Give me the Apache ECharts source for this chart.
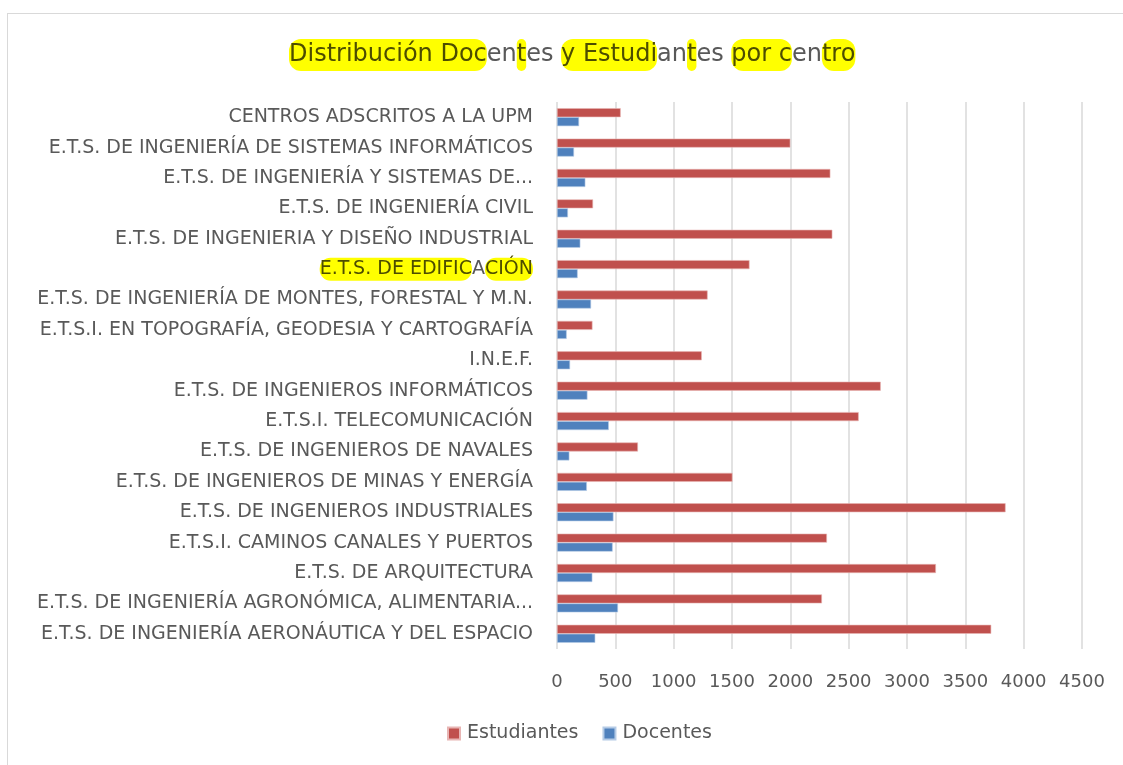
<!DOCTYPE html>
<html>
<head>
<meta charset="utf-8">
<script src="https://cdn.jsdelivr.net/npm/echarts@6/dist/echarts.min.js"></script>
<style>
  html, body { margin: 0; padding: 0; background: #fff; }
  #frame { position: absolute; left: 7px; top: 13px; width: 1130px; height: 770px; border: 1.5px solid #d9d9d9; box-sizing: border-box; }
  #chart { position: absolute; left: 0; top: 0; width: 1123px; height: 765px; }
</style>
</head>
<body>
<div id="frame"></div>
<div id="chart"></div>
<script>
// listed top to bottom as in the picture
const centros = [
  'CENTROS ADSCRITOS A LA UPM',
  'E.T.S. DE INGENIERÍA DE SISTEMAS INFORMÁTICOS',
  'E.T.S. DE INGENIERÍA Y SISTEMAS DE...',
  'E.T.S. DE INGENIERÍA CIVIL',
  'E.T.S. DE INGENIERIA Y DISEÑO INDUSTRIAL',
  'E.T.S. DE EDIFICACIÓN',
  'E.T.S. DE INGENIERÍA DE MONTES, FORESTAL Y M.N.',
  'E.T.S.I. EN TOPOGRAFÍA, GEODESIA Y CARTOGRAFÍA',
  'I.N.E.F.',
  'E.T.S. DE INGENIEROS INFORMÁTICOS',
  'E.T.S.I. TELECOMUNICACIÓN',
  'E.T.S. DE INGENIEROS DE NAVALES',
  'E.T.S. DE INGENIEROS DE MINAS Y ENERGÍA',
  'E.T.S. DE INGENIEROS INDUSTRIALES',
  'E.T.S.I. CAMINOS CANALES Y PUERTOS',
  'E.T.S. DE ARQUITECTURA',
  'E.T.S. DE INGENIERÍA AGRONÓMICA, ALIMENTARIA...',
  'E.T.S. DE INGENIERÍA AERONÁUTICA Y DEL ESPACIO'
]
const estudiantes = [546, 2000, 2343, 309, 2360, 1650, 1291, 304, 1241, 2775, 2586, 694, 1504, 3845, 2314, 3248, 2271, 3722]
const docentes = [189, 146, 243, 94, 200, 177, 292, 83, 112, 261, 444, 106, 256, 484, 477, 303, 523, 328]
const xTicks = { min: 0, max: 4500, interval: 500 }

const font = '"DejaVu Sans", sans-serif'
const textColor = '#595959'
const hl = { backgroundColor: '#ffff00', color: '#4d4d00', fontWeight: 'normal', borderRadius: 12, padding: [4, 0] }

const chart = echarts.init(document.getElementById('chart'), null, { renderer: 'canvas' })
chart.setOption({
  backgroundColor: 'transparent',
  title: {
    text: '{h|Distribución Doc}{n|en}{h|t}{n|es }{h|y Estudi}{n|an}{h|t}{n|es }{h|por c}{n|en}{h|tro}',
    left: 284,
    top: 34,
    textStyle: {
      fontFamily: font, fontSize: 24, fontWeight: 'normal', color: textColor,
      rich: {
        h: Object.assign({ fontFamily: font, fontSize: 24 }, hl),
        n: { fontFamily: font, fontSize: 24, fontWeight: 'normal', color: textColor, padding: [4, 0] }
      }
    }
  },
  legend: {
    bottom: 17,
    left: 442,
    itemWidth: 12,
    itemHeight: 12,
    itemGap: 24,
    icon: 'rect',
    textStyle: { fontFamily: font, fontSize: 19, color: textColor, padding: [0, 0, 0, 2] },
    data: ['Estudiantes', 'Docentes']
  },
  grid: { left: 557, right: 41, top: 102, bottom: 116, containLabel: false },
  xAxis: {
    type: 'value',
    min: xTicks.min,
    max: xTicks.max,
    interval: xTicks.interval,
    axisLine: { show: false },
    axisTick: { show: false },
    axisLabel: { fontFamily: font, fontSize: 18, color: textColor, margin: 24, formatter: v => String(v) },
    splitLine: { lineStyle: { color: '#d9d9d9', width: 1.5 } }
  },
  yAxis: {
    type: 'category',
    data: centros,
    inverse: true,
    axisLine: { show: false },
    axisTick: { show: false },
    axisLabel: {
      fontFamily: font, fontSize: 19, color: textColor, margin: 24,
      formatter: v => v === 'E.T.S. DE EDIFICACIÓN' ? '{h|E.T.S. DE EDIFIC}{n|A}{h|CIÓN}' : v,
      rich: {
        h: Object.assign({ fontFamily: font, fontSize: 19 }, hl, { borderRadius: 11, padding: [2, 0] }),
        n: { fontFamily: font, fontSize: 19, fontWeight: 'normal', color: textColor, padding: [2, 0] }
      }
    }
  },
  series: [
    {
      name: 'Estudiantes', type: 'bar', data: estudiantes,
      barWidth: 9, barGap: '0%',
      itemStyle: { color: '#c0504d', borderColor: '#e8b5b4', borderWidth: 0.6 }
    },
    {
      name: 'Docentes', type: 'bar', data: docentes,
      barWidth: 9, barGap: '0%',
      itemStyle: { color: '#4f81bd', borderColor: '#b5cbe6', borderWidth: 0.6 }
    }
  ],
  animation: false
})
</script>
</body>
</html>
